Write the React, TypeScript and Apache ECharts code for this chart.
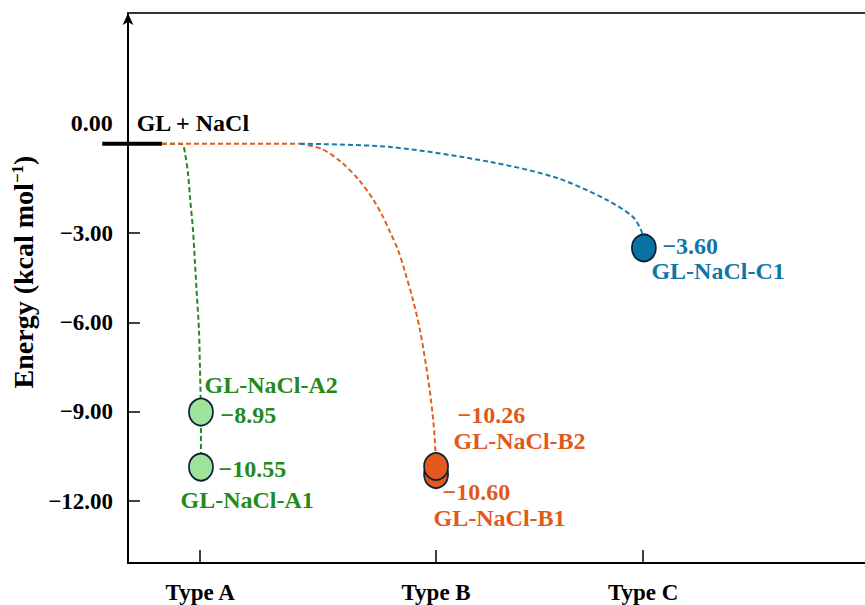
import React, { useEffect, useRef } from 'react';
import * as echarts from 'echarts';

// ---- data ----
const typeLabels = ['Type A', 'Type B', 'Type C'];
const typeX = [0.98, 4.18, 6.99];
const yTickValues = [-3, -6, -9, -12];

const levelLine = [[-0.35, 0], [0.46, 0]];
const levelName = 'GL + NaCl';
const levelValue = '0.00';

const greenPath = [
  [0.461, 0], [0.706, 0], [0.746, -0.04], [0.773, -0.31], [0.814, -0.99], [0.841, -1.79],
  [0.882, -2.9], [0.909, -4.01], [0.936, -5.15], [0.963, -6.26], [0.977, -7.6], [0.99, -9.01],
];
const greenLink = [[0.99, -9.01], [0.99, -10.86]];
const orangeFlat = [[0.461, 0], [2.334, 0]];
const orangePath = [
  [2.334, 0], [2.632, -0.18], [2.89, -0.61], [3.134, -1.22], [3.324, -1.86], [3.446, -2.39],
  [3.555, -2.96], [3.664, -3.57], [3.759, -4.31], [3.867, -5.25], [3.962, -6.26], [4.043, -7.43],
  [4.111, -8.61], [4.159, -9.78], [4.179, -10.82],
];
const bluePath = [
  [2.334, 0], [3.555, -0.11], [4.912, -0.61], [5.821, -1.15], [6.499, -1.89], [6.852, -2.46],
  [6.961, -2.9], [7.0, -3.23],
];

const pointNames = ['GL-NaCl-A2', 'GL-NaCl-A1', 'GL-NaCl-B1', 'GL-NaCl-B2', 'GL-NaCl-C1'];
const pointEnergy = ['−8.95', '−10.55', '−10.60', '−10.26', '−3.60'];
const pointX = [0.99, 0.99, 4.18, 4.18, 7.0];
const pointY = [-9.01, -10.86, -11.11, -10.84, -3.5];
const pointGroup = ['A', 'A', 'B', 'B', 'C'];

// ---- layout / style ----
const FONT = '"Liberation Serif", "Times New Roman", serif';
const GREEN_TXT = '#238a1b';
const ORANGE_TXT = '#e0591a';
const BLUE_TXT = '#1275a5';
const GREEN_LINE = '#1f8a1f';
const ORANGE_LINE = '#e2601e';
const BLUE_LINE = '#1a7ba8';
const OUTLINE = '#0c2232';

const FILLS: Record<string, string> = { A: '#9fe29c', B: '#e45a1e', C: '#0a72a3' };
const TXT_COLORS: Record<string, string> = { A: GREEN_TXT, B: ORANGE_TXT, C: BLUE_TXT };

// label offsets [valueDx, valueDy, nameDx, nameDy] relative to point centre
const labelLayout = [
  [20, 3, 4, -27],
  [18, 2, -20, 33],
  [7, 18, -2, 44],
  [22, -51, 18, -25],
  [19, -1, 8, 24],
];

export default function App() {
  const ref = useRef<HTMLDivElement>(null);
  useEffect(() => {
    if (!ref.current) return;
    const chart = echarts.init(ref.current, undefined, { renderer: 'svg' });

    const txt = (color: string, size = 24) => ({
      color,
      fontSize: size,
      fontWeight: 'bold',
      fontFamily: FONT,
      opacity: 1,
    });

    const dashed = (color: string) => ({ color, width: 2, type: [5, 3] as any });

    const mkLabel = (text: string, dx: number, dy: number, color: string) => ({
      show: true,
      formatter: text,
      position: [dx, dy],
      align: 'left',
      verticalAlign: 'middle',
      ...txt(color),
    });

    const annData: any[] = [];
    pointX.forEach((x, i) => {
      const c = TXT_COLORS[pointGroup[i]];
      const [vdx, vdy, ndx, ndy] = labelLayout[i];
      annData.push({ value: [x, pointY[i]], label: mkLabel(pointEnergy[i], vdx, vdy, c) });
      annData.push({ value: [x, pointY[i]], label: mkLabel(pointNames[i], ndx, ndy, c) });
    });
    annData.push({ value: levelLine[0], label: mkLabel(levelValue, -31, -20, '#000') });
    annData.push({ value: levelLine[0], label: mkLabel(levelName, 35, -20, '#000') });

    const option: any = {
      animation: false,
      grid: { left: 128, right: 0, top: 13, bottom: 42 },
      xAxis: [
        {
          type: 'value',
          min: 0,
          max: 10,
          splitLine: { show: false },
          axisLine: { show: true, onZero: false, lineStyle: { color: '#000', width: 2 } },
          axisTick: { show: true, inside: true, length: 13, customValues: typeX, lineStyle: { color: '#000', width: 1.5 } },
          axisLabel: {
            customValues: typeX,
            margin: 18,
            ...txt('#000', 23),
            formatter: (v: number) => {
              let best = 0;
              typeX.forEach((t, i) => { if (Math.abs(t - v) < Math.abs(typeX[best] - v)) best = i; });
              return typeLabels[best];
            },
          },
        },
        {
          type: 'value',
          position: 'top',
          min: 0,
          max: 10,
          splitLine: { show: false },
          axisLine: { show: true, onZero: false, lineStyle: { color: '#333', width: 2 } },
          axisTick: { show: false },
          axisLabel: { show: false },
        },
      ],
      yAxis: {
        type: 'value',
        min: -14.08,
        max: 4.39,
        splitLine: { show: false },
        axisLine: {
          show: true, onZero: false, symbol: ['none', 'arrow'], symbolSize: [8, 12],
          lineStyle: { color: '#000', width: 2 },
        },
        axisTick: { show: true, inside: true, length: 12, customValues: yTickValues, lineStyle: { color: '#000', width: 1.5 } },
        axisLabel: {
          customValues: yTickValues,
          margin: 15,
          ...txt('#000', 23),
          formatter: (v: number) => (v < 0 ? '−' : '') + Math.abs(v).toFixed(2),
        },
        name: 'Energy (kcal mol{sup|−1})',
        nameLocation: 'middle',
        nameRotate: 90,
        nameGap: 87,
        nameTextStyle: {
          ...txt('#000', 28),
          padding: [0, 0, 0, 32],
          rich: {
            sup: { ...txt('#000', 17), verticalAlign: 'top', padding: [0, 0, 12, 0] },
          },
        },
      },
      series: [
        {
          type: 'line', data: greenPath, symbol: 'none', smooth: 0.3, silent: true, z: 2,
          lineStyle: dashed(GREEN_LINE),
        },
        {
          type: 'line', data: greenLink, symbol: 'none', silent: true, z: 2,
          lineStyle: dashed(GREEN_LINE),
        },
        {
          type: 'line', data: orangeFlat, symbol: 'none', silent: true, z: 3,
          lineStyle: dashed(ORANGE_LINE),
        },
        {
          type: 'line', data: orangePath, symbol: 'none', smooth: 0.3, silent: true, z: 2,
          lineStyle: dashed(ORANGE_LINE),
        },
        {
          type: 'line', data: bluePath, symbol: 'none', smooth: 0.3, silent: true, z: 2,
          lineStyle: dashed(BLUE_LINE),
        },
        {
          type: 'scatter',
          silent: true,
          z: 5,
          symbol: 'circle',
          symbolSize: [24, 27],
          itemStyle: { opacity: 1 },
          data: pointX.map((x, i) => ({
            value: [x, pointY[i]],
            itemStyle: { color: FILLS[pointGroup[i]], borderColor: OUTLINE, borderWidth: 1.8, opacity: 1 },
          })),
        },
        {
          type: 'scatter',
          silent: true,
          z: 6,
          symbol: 'circle',
          symbolSize: 1,
          clip: false,
          itemStyle: { color: 'rgba(0,0,0,0)', opacity: 1 },
          data: annData,
        },
      ],
    };
    chart.setOption(option);

    // level bar of the reference state, mapped through the chart's own scales
    const p0 = chart.convertToPixel({ gridIndex: 0 }, levelLine[0]) as number[];
    const p1 = chart.convertToPixel({ gridIndex: 0 }, levelLine[1]) as number[];
    chart.setOption({
      graphic: [
        {
          type: 'line',
          z: 10,
          silent: true,
          shape: { x1: p0[0], y1: p0[1], x2: p1[0], y2: p1[1] },
          style: { stroke: '#000', lineWidth: 4 },
        },
      ],
    });
    return () => chart.dispose();
  }, []);

  return (
    <div
      ref={ref}
      style={{ position: 'fixed', left: 0, top: 0, width: 865, height: 605, background: '#fff' }}
    />
  );
}
